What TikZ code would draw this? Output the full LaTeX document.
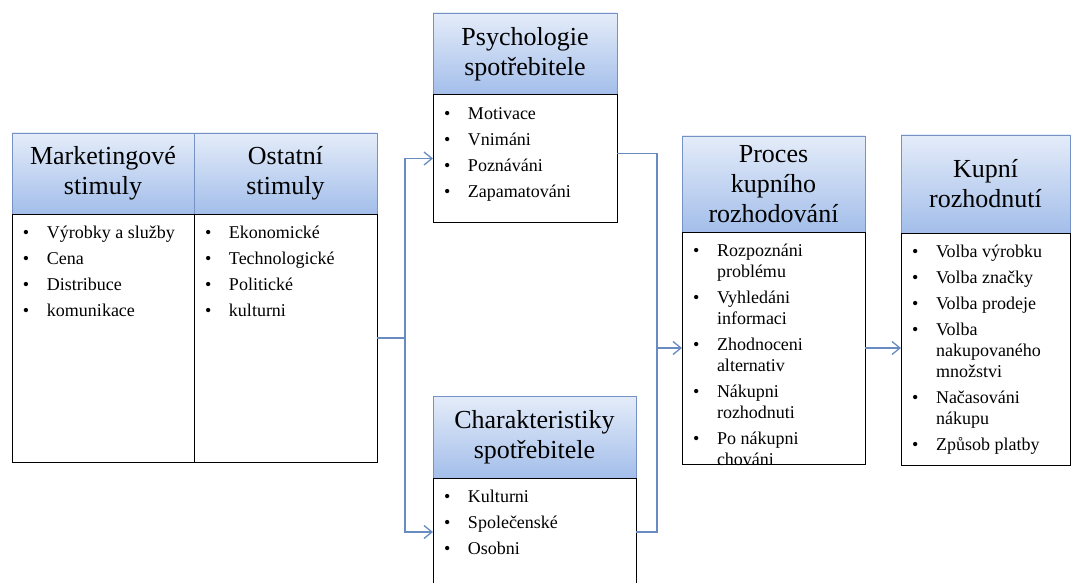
\documentclass[tikz,border=0pt]{standalone}
\usepackage{fontspec}
\setmainfont{LiberationSerif}[Extension = .ttf,
  UprightFont = *-Regular, BoldFont = *-Bold,
  ItalicFont = *-Italic, BoldItalicFont = *-BoldItalic]
\usetikzlibrary{arrows.meta}
\usetikzlibrary{positioning}
\definecolor{headtop}{RGB}{228,236,249}
\definecolor{headbot}{RGB}{163,190,234}
\definecolor{headline}{RGB}{118,146,196}
\definecolor{connline}{RGB}{104,140,194}
\newcommand{\blist}[3]{\parbox[c][#2][t]{#1}{\fontsize{18}{21}\selectfont
  \parskip=5pt\leftskip=11pt\rightskip=2pt plus 1fil\vspace*{5pt}#3}}
\newcommand{\itm}[1]{\par\hangindent=24pt\hangafter=1\noindent
  \makebox[24pt][l]{\textbullet}\strut#1}
\tikzset{
  node distance = 0pt,
  > = {Straight Barb[length=8pt,width=13pt]},
  head/.style = {rectangle,
                 draw = headline,
                 top color = headtop,
                 bottom color = headbot,
                 align = center,
                 font = \fontsize{26}{30}\selectfont,
                 inner sep = 0pt,
                 outer sep = 0pt},
  body/.style = {rectangle,
                 draw,
                 line width = 1pt,
                 fill = white,
                 inner sep = 0pt,
                 outer sep = 0pt},
  conn/.style = {draw = connline,
                 line width = 1.3pt}
}
\begin{document}
\begin{tikzpicture}[x = 1pt, y = -1pt]
\useasboundingbox (0,0) rectangle (1071,583);

% stimuly
\node[head, minimum width = 182pt, minimum height = 81pt](head-mark)[anchor = north west] at (12,133){Marketingové\\stimuly};
\node[head, minimum width = 183pt, minimum height = 81pt](head-ost)[right = of head-mark]{Ostatní\\stimuly};
\node[body](body-mark)[below = of head-mark]{\blist{182pt}{248pt}{\itm{Výrobky a služby}\itm{Cena}\itm{Distribuce}\itm{komunikace}}};
\node[body](body-ost)[below = of head-ost]{\blist{183pt}{248pt}{\itm{Ekonomické}\itm{Technologické}\itm{Politické}\itm{kulturni}}};

% spotrebitel
\node[head, minimum width = 184pt, minimum height = 82pt](head-psy)[anchor = north west] at (433,13){Psychologie\\spotřebitele};
\node[body](body-psy)[below = of head-psy]{\blist{184pt}{127pt}{\itm{Motivace}\itm{Vnimáni}\itm{Poznáváni}\itm{Zapamatováni}}};
\node[head, minimum width = 203pt, minimum height = 82pt](head-cha)[anchor = north west] at (433,396){Charakteristiky\\spotřebitele};
\node[body](body-cha)[below = of head-cha]{\blist{203pt}{108pt}{\itm{Kulturni}\itm{Společenské}\itm{Osobni}}};

% proces a rozhodnuti
\node[head, minimum width = 183pt, minimum height = 96pt](head-proc)[anchor = north west] at (682,136){Proces\\kupního\\rozhodování};
\node[body](body-proc)[below = of head-proc]{\blist{183pt}{232pt}{\itm{Rozpoznáni\newline problému}\itm{Vyhledáni\newline informaci}\itm{Zhodnoceni\newline alternativ}\itm{Nákupni\newline rozhodnuti}\itm{Po nákupni\newline chováni}}};
\node[head, minimum width = 169pt, minimum height = 98pt](head-kup)[anchor = north west] at (901,135){Kupní\\rozhodnutí};
\node[body](body-kup)[below = of head-kup]{\blist{169pt}{232pt}{\itm{Volba výrobku}\itm{Volba značky}\itm{Volba prodeje}\itm{Volba\newline nakupovaného\newline množstvi}\itm{Načasováni\newline nákupu}\itm{Způsob platby}}};

% spojnice
\coordinate[right = 28pt of body-ost](split);
\coordinate(join) at (657,348);
\draw[conn] (body-ost) -- (split);
\draw[conn, ->] (split) |- (body-psy);
\draw[conn, ->] (split) |- (body-cha);
\draw[conn] ([yshift = 5pt]body-psy.east) -| (join);
\draw[conn] (body-cha) -| (join);
\draw[conn, ->] (join) -- (body-proc);
\draw[conn, ->] (body-proc.east) -- (body-proc.east -| body-kup.west);

\end{tikzpicture}
\end{document}
